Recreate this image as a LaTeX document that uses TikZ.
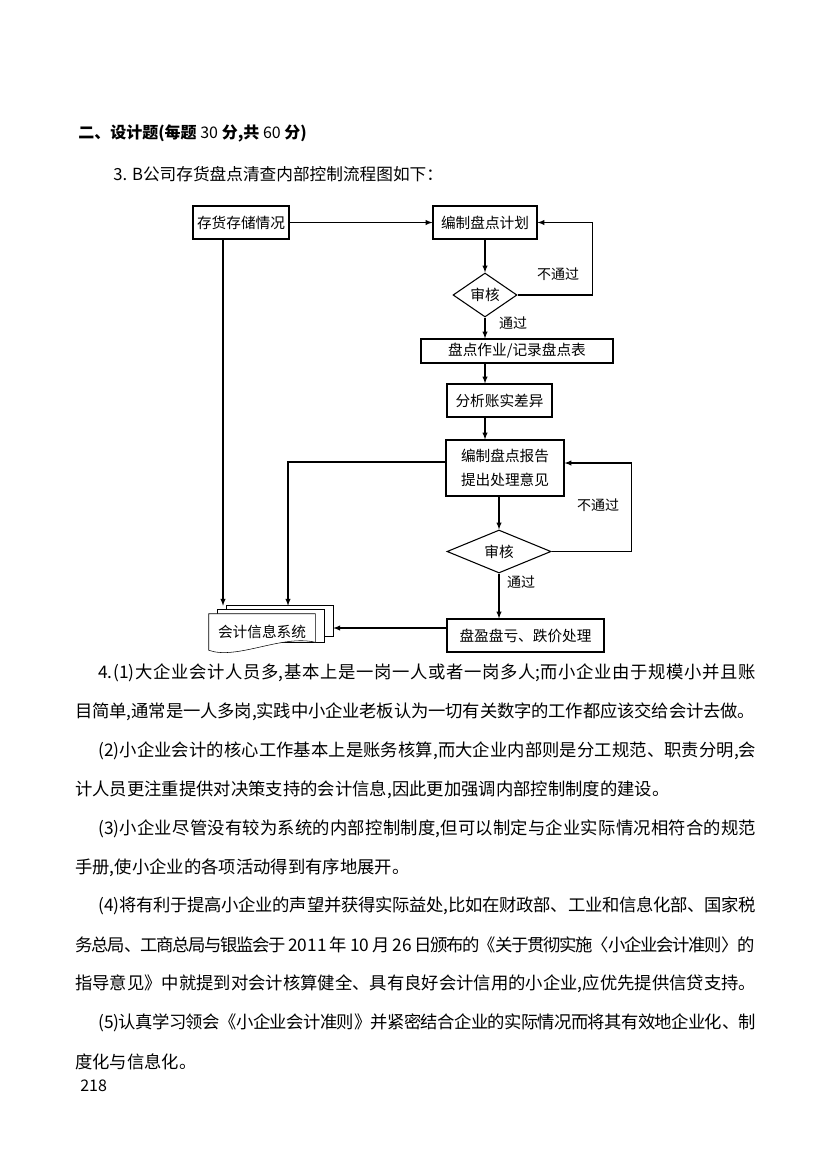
\documentclass[tikz,border=0pt]{standalone}
\usepackage{fontspec}
\setmainfont{Noto Sans CJK SC}
\usetikzlibrary{shapes.geometric,calc,arrows,backgrounds}
\XeTeXlinebreaklocale "zh"
\XeTeXlinebreakskip=0pt plus 3pt minus 1.5pt

\newcommand{\fullline}[1]{\parbox{510pt}{\tolerance=9999\parfillskip=0pt\noindent #1}}
\newcommand{\indline}[1]{\parbox{493.5pt}{\tolerance=9999\parfillskip=0pt\noindent #1}}

\tikzset{
  box/.style={draw, line width=0.8pt, inner sep=0pt, align=center, font=\fontsize{11}{18}\selectfont},
  check/.style={draw, diamond, line width=0.8pt, inner sep=0pt, font=\fontsize{11}{13}\selectfont},
  arr/.style={>=latex, ->, line width=0.8pt},
  lbl/.style={inner sep=0pt, font=\fontsize{10.5}{12}\selectfont},
  para/.style={anchor=west, inner sep=0pt, font=\fontsize{13}{15}\selectfont},
}

\begin{document}
\begin{tikzpicture}[x=0.75pt,y=-0.75pt]
\useasboundingbox (0,0) rectangle (827,1171);

% heading
\node[anchor=west, inner sep=0pt, font=\fontsize{12}{14}\selectfont\bfseries] (title) at (78,133) {二、设计题(每题 {\mdseries 30} 分,共 {\mdseries 60} 分)};
\node[anchor=west, inner sep=0pt, font=\fontsize{12.5}{14}\selectfont] (q3) at (113,174) {3. B公司存货盘点清查内部控制流程图如下：};

% flow chart
\node[box, minimum width=72pt, minimum height=24.75pt] (cunhuo) at (241,222.5) {存货存储情况};
\node[box, minimum width=78pt, minimum height=24.75pt] (jihua) at (485,222.5) {编制盘点计划};
\node[check, minimum width=48pt, minimum height=33pt] (shenhe1) at (485,295) {审核};
\node[box, minimum width=144pt, minimum height=18pt] (zuoye) at (517,351) {盘点作业/记录盘点表};
\node[box, minimum width=78.75pt, minimum height=24.75pt] (fenxi) at (499.5,400.5) {分析账实差异};
\node[box, minimum width=88.5pt, minimum height=42pt] (baogao) at (505,468) {编制盘点报告\\提出处理意见};
\node[check, minimum width=78pt, minimum height=32.25pt] (shenhe2) at (499,551.5) {审核};
\node[box, minimum width=117.75pt, minimum height=24.75pt] (chuli) at (525.5,635.5) {盘盈盘亏、跌价处理};
\node[inner sep=0pt, minimum width=79.5pt, minimum height=27pt, font=\fontsize{11}{13}\selectfont] (kuaiji) at (262,632) {会计信息系统};

% document stack
\begin{scope}[on background layer, line width=0.8pt]
\draw[fill=white] ($(kuaiji.north west)+(18,-8)$) rectangle ($(kuaiji.south east)+(18,-14)$);
\draw[fill=white] ($(kuaiji.north west)+(9,-4)$) rectangle ($(kuaiji.south east)+(9,-8)$);
\draw[fill=white] (kuaiji.north west) -- (kuaiji.north east) -- ($(kuaiji.south east)+(0,-8)$)
  .. controls ($(kuaiji.south)+(20,-16)$) and ($(kuaiji.south)+(-25,10)$) .. (kuaiji.south west) -- cycle;
\end{scope}
\coordinate (kjtop) at ($(kuaiji.north)+(0,-8)$);
\coordinate (kjr) at ($(kuaiji.east)+(18,-4)$);

% connectors
\draw[arr] (cunhuo) -- (jihua);
\draw[arr] (jihua) -- (shenhe1);
\draw[arr] (shenhe1.east) -| ($(jihua.east)+(55,0)$) -- (jihua.east);
\draw[arr] (shenhe1.south) -- (shenhe1.south |- zuoye.north);
\draw[arr] (shenhe1.south |- zuoye.south) -- (shenhe1.south |- fenxi.north);
\draw[arr] (shenhe1.south |- fenxi.south) -- (shenhe1.south |- baogao.north);
\draw[arr] (shenhe2.north |- baogao.south) -- (shenhe2.north);
\coordinate (bge) at ($(baogao.east)+(0,-5)$);
\draw[arr] (shenhe2.east) -| ($(bge)+(67,0)$) -- (bge);
\draw[arr] (shenhe2.south) -- (shenhe2.south |- chuli.north);
\draw[arr] (chuli.west |- kjr) -- (kjr);
\coordinate (left1) at ($(cunhuo.south)+(-18,0)$);
\draw[arr] (left1) -- (left1 |- kjtop);
\coordinate (bgw) at ($(baogao.west)+(0,-6)$);
\draw[arr] (bgw) -| ($(kjtop)+(26,0)$);

% labels
\node[lbl] (no1) at (558,274) {不通过};
\node[lbl] (yes1) at (513,323) {通过};
\node[lbl] (no2) at (598,505) {不通过};
\node[lbl] (yes2) at (521,582) {通过};

% answer text
\node[para] (p1) at (98,673) {\indline{4.(1)大企业会计人员多,基本上是一岗一人或者一岗多人;而小企业由于规模小并且账}};
\node[para] (p2) at (75,712) {\fullline{目简单,通常是一人多岗,实践中小企业老板认为一切有关数字的工作都应该交给会计去做。}};
\node[para] (p3) at (98,751) {\indline{(2)小企业会计的核心工作基本上是账务核算,而大企业内部则是分工规范、职责分明,会}};
\node[para] (p4) at (75,790) {计人员更注重提供对决策支持的会计信息,因此更加强调内部控制制度的建设。};
\node[para] (p5) at (98,829) {\indline{(3)小企业尽管没有较为系统的内部控制制度,但可以制定与企业实际情况相符合的规范}};
\node[para] (p6) at (75,868) {手册,使小企业的各项活动得到有序地展开。};
\node[para] (p7) at (98,906) {\indline{(4)将有利于提高小企业的声望并获得实际益处,比如在财政部、工业和信息化部、国家税}};
\node[para] (p8) at (75,945) {\fullline{务总局、工商总局与银监会于 2011 年 10 月 26 日颁布的《关于贯彻实施〈小企业会计准则〉的}};
\node[para] (p9) at (75,984) {指导意见》中就提到对会计核算健全、具有良好会计信用的小企业,应优先提供信贷支持。};
\node[para] (p10) at (98,1023) {\indline{(5)认真学习领会《小企业会计准则》并紧密结合企业的实际情况而将其有效地企业化、制}};
\node[para] (p11) at (75,1062) {度化与信息化。};
\node[anchor=west, inner sep=0pt, font=\fontsize{12}{14}\selectfont] (page) at (80,1086) {218};
\end{tikzpicture}
\end{document}
